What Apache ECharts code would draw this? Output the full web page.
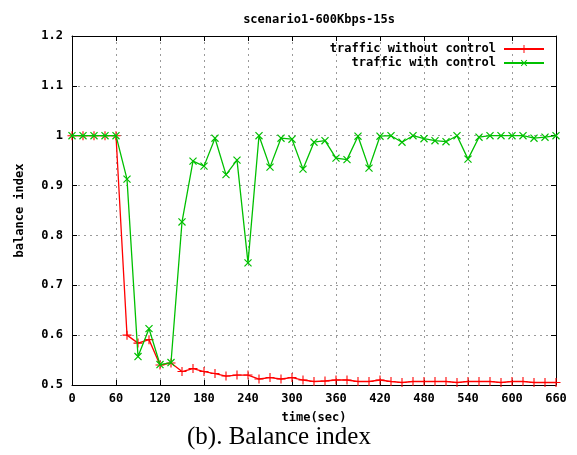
<!DOCTYPE html>
<html>
<head>
<meta charset="utf-8">
<script src="https://cdn.jsdelivr.net/npm/echarts@6/dist/echarts.min.js"></script>
<style>
  html, body { margin: 0; padding: 0; background: #fff; }
  #chart { width: 577px; height: 455px; }
</style>
</head>
<body>
<div id="chart"></div>
<script>
// time axis, one sample every 15 s
var times = [];
for (var t = 0; t <= 660; t += 15) times.push(t);

var withoutControl = [
  1.0, 1.0, 1.0, 1.0, 1.0, 0.60, 0.584, 0.591, 0.54, 0.544, 0.527, 0.533,
  0.527, 0.523, 0.518, 0.52, 0.52,
  0.512, 0.515, 0.512, 0.515, 0.51, 0.507, 0.508, 0.51, 0.51, 0.507, 0.507,
  0.51, 0.507, 0.505, 0.507, 0.507, 0.507, 0.507, 0.505, 0.507, 0.507, 0.507,
  0.505, 0.507, 0.507, 0.505, 0.505, 0.505
];

var withControl = [
  1.0, 1.0, 1.0, 1.0, 1.0, 0.913, 0.557, 0.613, 0.541, 0.545, 0.827, 0.949,
  0.939, 0.995, 0.922, 0.951, 0.745,
  1.0, 0.937, 0.995, 0.993, 0.933, 0.987, 0.99, 0.955, 0.952, 0.999, 0.935,
  0.999, 1.0, 0.987, 1.0, 0.994, 0.99, 0.988, 1.0, 0.953, 0.997, 1.0,
  1.0, 1.0, 1.0, 0.995, 0.997, 1.0
];

var seriesNames = ["traffic without control", "traffic with control"];

var mono = "DejaVu Sans Mono";
var plus = "path://M0,4.4H10V5.6H0Z M4.4,0H5.6V10H4.4Z";

function pairs(vals) {
  return vals.map(function (v, i) { return [times[i], v]; });
}

var chart = echarts.init(document.getElementById("chart"));

var gridLine = { show: true, lineStyle: { color: "#9a9a9a", type: [2, 4], width: 1 } };
var tick = { show: true, inside: true, length: 5, lineStyle: { color: "#000" } };
var axisLine = { show: true, onZero: false, lineStyle: { color: "#000", width: 1 } };
var label = { fontFamily: mono, fontWeight: "bold", fontSize: 12, color: "#000" };

chart.setOption({
  animation: false,
  title: {
    text: "scenario1-600Kbps-15s",
    left: 314,
    textAlign: "center",
    top: 9,
    textStyle: { fontFamily: mono, fontWeight: "bold", fontSize: 12, color: "#000" }
  },
  legend: {
    orient: "vertical",
    right: 27,
    top: 38,
    align: "right",
    itemGap: 2,
    itemWidth: 40,
    itemHeight: 10,
    textStyle: { fontFamily: mono, fontWeight: "bold", fontSize: 12, color: "#000", padding: [0, 3, 0, 0] },
    data: seriesNames
  },
  grid: { left: 72, right: 21, top: 36, bottom: 70 },
  xAxis: [{
    type: "value",
    min: 0, max: 660, interval: 60,
    name: "time(sec)",
    nameLocation: "middle",
    nameGap: 27,
    nameTextStyle: label,
    axisLine: axisLine,
    axisTick: tick,
    axisLabel: Object.assign({ margin: 8 }, label),
    splitLine: gridLine
  }, {
    type: "value",
    position: "top",
    min: 0, max: 660, interval: 60,
    axisLine: axisLine,
    axisTick: tick,
    axisLabel: { show: false },
    splitLine: { show: false }
  }],
  yAxis: [{
    type: "value",
    min: 0.5, max: 1.2, interval: 0.1,
    name: "balance index",
    nameLocation: "middle",
    nameGap: 46,
    nameRotate: 90,
    nameTextStyle: label,
    axisLine: axisLine,
    axisTick: tick,
    axisLabel: Object.assign({ margin: 9 }, label),
    splitLine: gridLine
  }, {
    type: "value",
    position: "right",
    min: 0.5, max: 1.2, interval: 0.1,
    axisLine: axisLine,
    axisTick: tick,
    axisLabel: { show: false },
    splitLine: { show: false }
  }],
  graphic: [{
    type: "text",
    left: 187,
    top: 425,
    style: {
      text: "(b). Balance index",
      font: "25px 'Liberation Serif'",
      fill: "#000"
    }
  }],
  series: [{
    name: seriesNames[0],
    type: "line",
    data: pairs(withoutControl),
    symbol: plus,
    symbolSize: 9,
    showAllSymbol: true,
    z: 3,
    lineStyle: { color: "#ff0000", width: 1.3 },
    itemStyle: { color: "#ff0000" }
  }, {
    name: seriesNames[1],
    type: "line",
    data: pairs(withControl),
    symbol: plus,
    symbolSize: 10,
    symbolRotate: 45,
    showAllSymbol: true,
    z: 4,
    lineStyle: { color: "#00c000", width: 1.3 },
    itemStyle: { color: "#00c000" }
  }]
});
</script>
</body>
</html>
